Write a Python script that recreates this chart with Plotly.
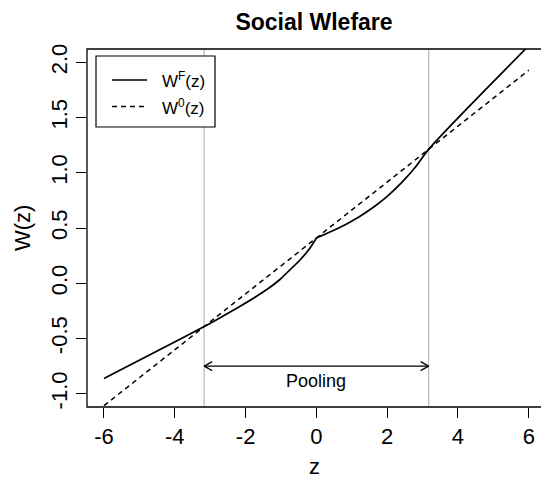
import plotly.graph_objects as go

# Welfare under full separation (W^F): left branch up to the kink at z = 0, right branch after it
z_f_left = [-6, -3.17, -2.6, -2.155, -1.7, -1.4, -1.03, -0.74, -0.45, -0.18, 0]
w_f_left = [-0.862, -0.392, -0.29, -0.208, -0.12, -0.057, 0.034, 0.124, 0.215, 0.32, 0.41]
z_f_right = [0, 0.4, 0.8, 1.2, 1.6, 2.0, 2.4, 2.8, 3.17, 6]
w_f_right = [0.41, 0.466, 0.528, 0.6, 0.685, 0.786, 0.908, 1.052, 1.212, 2.15]

# Welfare under the pooling benchmark (W^0)
z_0 = [-6, -3.17, 0, 3.17, 6]
w_0 = [-1.108, -0.392, 0.41, 1.212, 1.928]

# pooling interval bounds and where its arrow / label sit
pool_lo, pool_hi = -3.17, 3.17
arrow_y = -0.75
label_y = -0.885

x_ticks = [-6, -4, -2, 0, 2, 4, 6]
x_ticktext = ["-6", "-4", "-2", "0", "2", "4", "6"]
y_ticks = [-1.0, -0.5, 0.0, 0.5, 1.0, 1.5, 2.0]
y_ticktext = ["-1.0", "-0.5", "0.0", "0.5", "1.0", "1.5", "2.0"]

FONT = "Liberation Sans, Arial, Helvetica, sans-serif"
W, H = 541, 478
L, R, T, B = 87, 0, 49, 71
plot_w, plot_h = W - L - R, H - T - B
x_range = [-6.48, 6.345]
y_range = [-1.12, 2.12]

# arrowhead size in data units (about 8px long, 4.5px half-width)
px_x = (x_range[1] - x_range[0]) / plot_w
px_y = (y_range[1] - y_range[0]) / plot_h
head_dx, head_dy = 8 * px_x, 4.5 * px_y

fig = go.Figure()

for zs, ws in ((z_f_left, w_f_left), (z_f_right, w_f_right)):
    fig.add_trace(go.Scatter(x=zs, y=ws, mode="lines",
                             line=dict(color="black", width=1.7, shape="spline", smoothing=0.8),
                             showlegend=False, hoverinfo="skip"))
fig.add_trace(go.Scatter(x=z_0, y=w_0, mode="lines",
                         line=dict(color="black", width=1.5, dash="5px,4px"),
                         showlegend=False, hoverinfo="skip"))

# double-headed arrow across the pooling region
arr_x = [pool_lo + head_dx, pool_lo, pool_lo + head_dx, None,
         pool_lo, pool_hi, None,
         pool_hi - head_dx, pool_hi, pool_hi - head_dx]
arr_y = [arrow_y + head_dy, arrow_y, arrow_y - head_dy, None,
         arrow_y, arrow_y, None,
         arrow_y + head_dy, arrow_y, arrow_y - head_dy]
fig.add_trace(go.Scatter(x=arr_x, y=arr_y, mode="lines",
                         line=dict(color="black", width=1.2),
                         showlegend=False, hoverinfo="skip"))

shapes = []
for xv in (pool_lo, pool_hi):
    shapes.append(dict(type="line", xref="x", yref="paper", x0=xv, x1=xv, y0=0, y1=1,
                       line=dict(color="#bebebe", width=1.3), layer="below"))

# plot frame
shapes.append(dict(type="rect", xref="paper", yref="paper", x0=0, x1=1.05, y0=0, y1=1,
                   line=dict(color="black", width=1.3)))


def px2paper(px, py):
    return (px - L) / plot_w, (H - B - py) / plot_h


# legend box drawn by hand
lx0, ly0 = px2paper(96, 127)
lx1, ly1 = px2paper(215, 56)
shapes.append(dict(type="rect", xref="paper", yref="paper", x0=lx0, x1=lx1, y0=ly0, y1=ly1,
                   line=dict(color="black", width=1.2), fillcolor="white"))
sx0, r1 = px2paper(112, 80)
sx1, r2 = px2paper(147, 106.5)
shapes.append(dict(type="line", xref="paper", yref="paper", x0=sx0, x1=sx1, y0=r1, y1=r1,
                   line=dict(color="black", width=1.5)))
shapes.append(dict(type="line", xref="paper", yref="paper", x0=sx0, x1=sx1, y0=r2, y1=r2,
                   line=dict(color="black", width=1.5, dash="5px,4px")))
tx, _ = px2paper(160, 0)

annotations = [
    dict(x=tx, y=r1, xref="paper", yref="paper", text="W<sup>F</sup>(z)", showarrow=False,
         xanchor="left", yanchor="middle", font=dict(family=FONT, size=17, color="black")),
    dict(x=tx, y=r2, xref="paper", yref="paper", text="W<sup>0</sup>(z)", showarrow=False,
         xanchor="left", yanchor="middle", font=dict(family=FONT, size=17, color="black")),
    dict(x=(pool_lo + pool_hi) / 2, y=label_y, xref="x", yref="y", text="Pooling",
         showarrow=False, xanchor="center", yanchor="middle",
         font=dict(family=FONT, size=18, color="black")),
    dict(x=0.5, y=0, xref="paper", yref="paper", text="z", showarrow=False,
         xanchor="center", yanchor="middle", yshift=-59,
         font=dict(family=FONT, size=22, color="black")),
    dict(x=0, y=0.5, xref="paper", yref="paper", text="W(z)", showarrow=False,
         xanchor="center", yanchor="middle", xshift=-65, textangle=-90,
         font=dict(family=FONT, size=22, color="black")),
]

fig.update_layout(
    width=W, height=H,
    margin=dict(l=L, r=R, t=T, b=B),
    paper_bgcolor="white", plot_bgcolor="white",
    title=dict(text="<b>Social Wlefare</b>", x=0.5, xref="paper", y=1 - 22 / H,
               yanchor="middle", xanchor="center",
               font=dict(family=FONT, size=23, color="black")),
    shapes=shapes,
    annotations=annotations,
    xaxis=dict(range=x_range, tickvals=x_ticks, ticktext=x_ticktext,
               showgrid=False, zeroline=False, showline=False,
               ticks="outside", ticklen=10, tickwidth=1.2, tickcolor="black",
               tickfont=dict(family=FONT, size=22, color="black")),
    yaxis=dict(range=y_range, tickvals=y_ticks, ticktext=y_ticktext,
               showgrid=False, zeroline=False, showline=False,
               ticks="outside", ticklen=10, tickwidth=1.2, tickcolor="black",
               tickangle=-90,
               tickfont=dict(family=FONT, size=22, color="black")),
)

fig.write_html("out.html")
